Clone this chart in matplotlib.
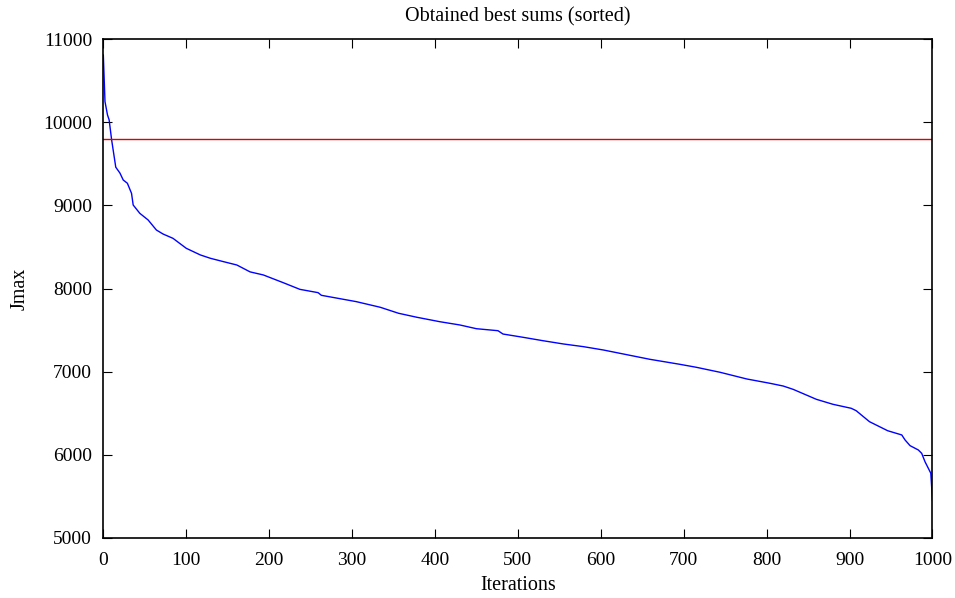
import matplotlib
matplotlib.use('Agg')
from matplotlib import pyplot as plt

# punti (iterazione, valore)
iteracoes = [0, 2, 5, 7, 10, 15, 20, 24, 29, 34, 36, 44, 54, 64, 72, 84, 100, 117, 129,
             145, 161, 177, 193, 217, 237, 259, 263, 305, 334, 356, 378, 406, 430, 450,
             476, 482, 506, 530, 555, 579, 603, 623, 659, 695, 715, 744, 776, 804, 820,
             832, 860, 880, 902, 908, 924, 946, 963, 967, 973, 983, 987, 991, 995, 998,
             1000]
jmax = [10810, 10250, 10090, 10030, 9790, 9460, 9390, 9306, 9267, 9146, 9005, 8905, 8825,
        8704, 8656, 8604, 8484, 8404, 8364, 8323, 8283, 8200, 8163, 8070, 7990, 7950, 7918,
        7842, 7774, 7702, 7654, 7600, 7561, 7516, 7492, 7452, 7413, 7372, 7332, 7300, 7260,
        7220, 7148, 7088, 7052, 6991, 6911, 6859, 6826, 6786, 6666, 6606, 6558, 6529, 6397,
        6288, 6237, 6176, 6108, 6056, 6016, 5915, 5836, 5776, 5450]
limite = 9800

plt.rcParams['font.family'] = ['Liberation Serif', 'DejaVu Serif']
fig = plt.figure(figsize=(9.55, 5.98), dpi=100)
ax = fig.add_axes([0.1082, 0.1008, 0.8682, 0.8335])

ax.plot(iteracoes, jmax, color='#0000ff', linewidth=1)
ax.axhline(limite, color='#e00000', linewidth=1)

ax.set_xlim(0, 1000)
ax.set_ylim(5000, 11000)
ax.set_xticks(range(0, 1001, 100))
ax.set_yticks(range(5000, 11001, 1000))
ax.tick_params(axis='both', direction='in', length=6.5, width=0.8, top=True, right=True,
               labelsize=14, colors='black')
ax.tick_params(axis='x', pad=10)
ax.tick_params(axis='y', pad=8)
for s in ax.spines.values():
    s.set_linewidth(1.2)

ax.set_title('Obtained best sums (sorted)', fontsize=14.5, pad=13)
ax.set_xlabel('Iterations', fontsize=14.5, labelpad=5)
ax.set_ylabel('Jmax', fontsize=14.5, labelpad=10)

fig.savefig('out.png', dpi=100)
